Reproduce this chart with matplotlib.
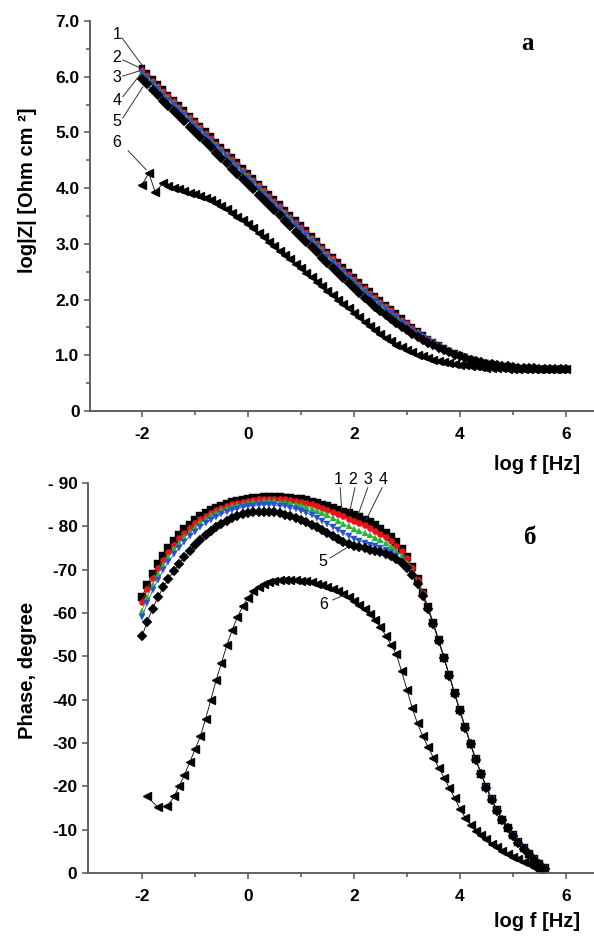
import numpy as np
import matplotlib
matplotlib.use("Agg")
import matplotlib.pyplot as plt

plt.rcParams['font.family'] = ['Liberation Sans', 'DejaVu Sans']

# #############################################################################
# Data

# log f grid, top panel (-2 ... 6)
logf_top = [-2.0, -1.9, -1.8, -1.7, -1.6, -1.5, -1.4, -1.3, -1.2, -1.1,
            -1.0, -0.9, -0.8, -0.7, -0.6, -0.5, -0.4, -0.3, -0.2, -0.1,
            0.0, 0.1, 0.2, 0.3, 0.4, 0.5, 0.6, 0.7, 0.8, 0.9,
            1.0, 1.1, 1.2, 1.3, 1.4, 1.5, 1.6, 1.7, 1.8, 1.9,
            2.0, 2.1, 2.2, 2.3, 2.4, 2.5, 2.6, 2.7, 2.8, 2.9,
            3.0, 3.1, 3.2, 3.3, 3.4, 3.5, 3.6, 3.7, 3.8, 3.9,
            4.0, 4.1, 4.2, 4.3, 4.4, 4.5, 4.6, 4.7, 4.8, 4.9,
            5.0, 5.1, 5.2, 5.3, 5.4, 5.5, 5.6, 5.7, 5.8, 5.9, 6.0]

# log|Z| for samples 1-5
z1 = [6.15, 6.06, 5.96, 5.87, 5.77, 5.68, 5.59, 5.49, 5.40, 5.30,
      5.21, 5.12, 5.02, 4.93, 4.83, 4.74, 4.65, 4.55, 4.46, 4.36,
      4.27, 4.18, 4.08, 3.99, 3.89, 3.80, 3.71, 3.61, 3.52, 3.42,
      3.33, 3.24, 3.14, 3.05, 2.95, 2.86, 2.77, 2.67, 2.58, 2.49,
      2.40, 2.31, 2.23, 2.15, 2.07, 1.99, 1.91, 1.83, 1.75, 1.66,
      1.58, 1.50, 1.43, 1.36, 1.30, 1.24, 1.18, 1.13, 1.08, 1.04,
      1.00, 0.96, 0.93, 0.90, 0.88, 0.86, 0.84, 0.83, 0.81, 0.80,
      0.79, 0.78, 0.78, 0.77, 0.77, 0.76, 0.76, 0.76, 0.75, 0.75, 0.76]
z2 = [6.12, 6.03, 5.93, 5.84, 5.74, 5.65, 5.56, 5.46, 5.37, 5.27,
      5.18, 5.09, 4.99, 4.90, 4.80, 4.71, 4.62, 4.52, 4.43, 4.33,
      4.24, 4.15, 4.05, 3.96, 3.86, 3.77, 3.68, 3.58, 3.49, 3.39,
      3.30, 3.21, 3.11, 3.02, 2.92, 2.83, 2.74, 2.64, 2.55, 2.46,
      2.37, 2.28, 2.20, 2.12, 2.04, 1.96, 1.88, 1.81, 1.73, 1.64,
      1.57, 1.49, 1.42, 1.35, 1.30, 1.24, 1.18, 1.13, 1.08, 1.04,
      1.00, 0.96, 0.93, 0.90, 0.88, 0.86, 0.84, 0.82, 0.81, 0.80,
      0.79, 0.78, 0.77, 0.77, 0.76, 0.76, 0.76, 0.75, 0.75, 0.75, 0.76]
z3 = [6.09, 6.00, 5.90, 5.81, 5.71, 5.62, 5.53, 5.43, 5.34, 5.24,
      5.15, 5.06, 4.96, 4.87, 4.77, 4.68, 4.59, 4.49, 4.40, 4.30,
      4.21, 4.12, 4.02, 3.93, 3.83, 3.74, 3.65, 3.55, 3.46, 3.36,
      3.27, 3.18, 3.08, 2.99, 2.89, 2.80, 2.71, 2.61, 2.52, 2.43,
      2.34, 2.25, 2.17, 2.09, 2.01, 1.93, 1.86, 1.78, 1.70, 1.62,
      1.55, 1.47, 1.41, 1.34, 1.28, 1.23, 1.17, 1.12, 1.08, 1.03,
      0.99, 0.96, 0.92, 0.90, 0.87, 0.85, 0.84, 0.82, 0.81, 0.80,
      0.79, 0.78, 0.77, 0.76, 0.76, 0.75, 0.75, 0.75, 0.74, 0.74, 0.75]
z4 = [6.06, 5.97, 5.87, 5.78, 5.68, 5.59, 5.50, 5.40, 5.31, 5.21,
      5.12, 5.03, 4.93, 4.84, 4.74, 4.65, 4.56, 4.46, 4.37, 4.27,
      4.18, 4.09, 3.99, 3.90, 3.80, 3.71, 3.62, 3.52, 3.43, 3.33,
      3.24, 3.15, 3.05, 2.96, 2.86, 2.77, 2.68, 2.58, 2.49, 2.40,
      2.31, 2.22, 2.14, 2.06, 1.98, 1.90, 1.83, 1.75, 1.68, 1.60,
      1.53, 1.46, 1.39, 1.33, 1.27, 1.22, 1.17, 1.12, 1.07, 1.03,
      0.99, 0.96, 0.93, 0.90, 0.88, 0.86, 0.84, 0.82, 0.81, 0.80,
      0.79, 0.78, 0.77, 0.77, 0.76, 0.76, 0.75, 0.75, 0.75, 0.75, 0.75]
z5 = [5.95, 5.86, 5.76, 5.67, 5.57, 5.48, 5.39, 5.29, 5.20, 5.10,
      5.01, 4.92, 4.82, 4.73, 4.63, 4.54, 4.45, 4.35, 4.26, 4.16,
      4.07, 3.98, 3.88, 3.79, 3.69, 3.60, 3.51, 3.41, 3.32, 3.22,
      3.13, 3.04, 2.94, 2.85, 2.75, 2.66, 2.57, 2.47, 2.38, 2.29,
      2.20, 2.11, 2.03, 1.95, 1.87, 1.79, 1.72, 1.65, 1.58, 1.51,
      1.45, 1.38, 1.33, 1.27, 1.22, 1.18, 1.13, 1.09, 1.05, 1.01,
      0.98, 0.95, 0.92, 0.89, 0.87, 0.85, 0.84, 0.82, 0.81, 0.80,
      0.79, 0.78, 0.78, 0.77, 0.77, 0.76, 0.76, 0.76, 0.75, 0.75, 0.76]

# sample 6 (log|Z|), its own low-frequency points are scattered
logf6_top = [-2.0, -1.87, -1.75, -1.6, -1.5, -1.4, -1.3, -1.2, -1.1,
             -1.0, -0.9, -0.8, -0.7, -0.6, -0.5, -0.4, -0.3, -0.2, -0.1,
             0.0, 0.1, 0.2, 0.3, 0.4, 0.5, 0.6, 0.7, 0.8, 0.9,
             1.0, 1.1, 1.2, 1.3, 1.4, 1.5, 1.6, 1.7, 1.8, 1.9,
             2.0, 2.1, 2.2, 2.3, 2.4, 2.5, 2.6, 2.7, 2.8, 2.9,
             3.0, 3.1, 3.2, 3.3, 3.4, 3.5, 3.6, 3.7, 3.8, 3.9,
             4.0, 4.1, 4.2, 4.3, 4.4, 4.5, 4.6, 4.7, 4.8, 4.9,
             5.0, 5.1, 5.2, 5.3, 5.4, 5.5, 5.6, 5.7, 5.8, 5.9, 6.0]
z6 = [4.06, 4.27, 3.93, 4.09, 4.03, 4.00, 3.98, 3.95, 3.92,
      3.89, 3.86, 3.82, 3.78, 3.73, 3.68, 3.62, 3.56, 3.49, 3.42,
      3.35, 3.28, 3.20, 3.12, 3.04, 2.96, 2.88, 2.80, 2.72, 2.64,
      2.56, 2.48, 2.40, 2.32, 2.24, 2.16, 2.08, 2.00, 1.92, 1.84,
      1.76, 1.68, 1.60, 1.52, 1.45, 1.38, 1.31, 1.25, 1.19, 1.14,
      1.09, 1.05, 1.01, 0.98, 0.95, 0.92, 0.90, 0.88, 0.86, 0.85,
      0.83, 0.82, 0.81, 0.80, 0.79, 0.78, 0.78, 0.77, 0.77, 0.76,
      0.76, 0.76, 0.75, 0.75, 0.75, 0.75, 0.75, 0.75, 0.75, 0.75, 0.76]

# log f grid, bottom panel (-2 ... 5.6)
logf_bot = [-2.0, -1.9, -1.8, -1.7, -1.6, -1.5, -1.4, -1.3, -1.2, -1.1,
            -1.0, -0.9, -0.8, -0.7, -0.6, -0.5, -0.4, -0.3, -0.2, -0.1,
            0.0, 0.1, 0.2, 0.3, 0.4, 0.5, 0.6, 0.7, 0.8, 0.9,
            1.0, 1.1, 1.2, 1.3, 1.4, 1.5, 1.6, 1.7, 1.8, 1.9,
            2.0, 2.1, 2.2, 2.3, 2.4, 2.5, 2.6, 2.7, 2.8, 2.9,
            3.0, 3.1, 3.2, 3.3, 3.4, 3.5, 3.6, 3.7, 3.8, 3.9,
            4.0, 4.1, 4.2, 4.3, 4.4, 4.5, 4.6, 4.7, 4.8, 4.9,
            5.0, 5.1, 5.2, 5.3, 5.4, 5.5, 5.6]

# phase angle, samples 1-5
p1 = [-63.7, -66.5, -69.0, -71.2, -73.2, -75.0, -76.6, -78.0, -79.3, -80.4,
      -81.4, -82.3, -83.0, -83.7, -84.3, -84.8, -85.2, -85.6, -85.9, -86.1,
      -86.3, -86.5, -86.6, -86.7, -86.7, -86.7, -86.7, -86.6, -86.5, -86.4,
      -86.2, -86.0, -85.7, -85.4, -85.0, -84.6, -84.2, -83.8, -83.4, -83.0,
      -82.6, -82.1, -81.5, -80.9, -80.2, -79.4, -78.5, -77.5, -76.3, -74.8,
      -73.0, -70.6, -67.8, -64.7, -61.3, -57.6, -53.7, -49.7, -45.6, -41.5,
      -37.5, -33.6, -29.8, -26.2, -22.9, -19.8, -17.0, -14.5, -12.3, -10.4,
      -8.7, -7.1, -5.7, -4.4, -3.2, -2.1, -1.1]
p2 = [-62.6, -65.5, -68.0, -70.3, -72.3, -74.1, -75.8, -77.2, -78.5, -79.7,
      -80.7, -81.6, -82.4, -83.1, -83.7, -84.2, -84.7, -85.1, -85.4, -85.7,
      -85.9, -86.1, -86.2, -86.3, -86.3, -86.3, -86.3, -86.2, -86.1, -85.9,
      -85.7, -85.4, -85.1, -84.7, -84.3, -83.8, -83.3, -82.8, -82.3, -81.8,
      -81.3, -80.8, -80.2, -79.6, -79.0, -78.3, -77.5, -76.6, -75.5, -74.2,
      -72.6, -70.4, -67.7, -64.6, -61.2, -57.5, -53.6, -49.6, -45.5, -41.4,
      -37.4, -33.5, -29.7, -26.1, -22.8, -19.7, -16.9, -14.4, -12.2, -10.3,
      -8.6, -7.0, -5.6, -4.3, -3.1, -2.0, -1.0]
p3 = [-60.5, -63.7, -66.5, -69.0, -71.1, -73.0, -74.7, -76.2, -77.6, -78.8,
      -79.9, -80.9, -81.7, -82.5, -83.1, -83.7, -84.2, -84.6, -84.9, -85.2,
      -85.4, -85.6, -85.7, -85.8, -85.8, -85.8, -85.7, -85.6, -85.4, -85.2,
      -84.9, -84.5, -84.1, -83.6, -83.1, -82.5, -81.9, -81.3, -80.6, -80.0,
      -79.4, -78.9, -78.4, -77.9, -77.4, -76.8, -76.1, -75.3, -74.3, -73.1,
      -71.6, -69.6, -67.1, -64.3, -61.0, -57.4, -53.6, -49.7, -45.6, -41.6,
      -37.6, -33.7, -29.9, -26.3, -23.0, -19.9, -17.1, -14.6, -12.4, -10.5,
      -8.8, -7.2, -5.8, -4.5, -3.3, -2.2, -1.2]
p4 = [-59.0, -62.3, -65.2, -67.7, -69.9, -71.8, -73.5, -75.0, -76.4, -77.7,
      -78.8, -79.8, -80.7, -81.5, -82.2, -82.8, -83.3, -83.7, -84.1, -84.4,
      -84.6, -84.8, -84.9, -85.0, -85.0, -84.9, -84.8, -84.6, -84.3, -84.0,
      -83.6, -83.1, -82.6, -82.0, -81.3, -80.6, -79.9, -79.1, -78.4, -77.7,
      -77.1, -76.6, -76.2, -75.8, -75.4, -75.0, -74.5, -73.9, -73.1, -72.1,
      -70.8, -69.0, -66.7, -64.0, -60.8, -57.2, -53.4, -49.5, -45.4, -41.4,
      -37.4, -33.5, -29.8, -26.2, -22.9, -19.8, -17.0, -14.5, -12.3, -10.4,
      -8.7, -7.1, -5.7, -4.4, -3.2, -2.1, -1.1]
p5 = [-54.6, -58.0, -61.0, -63.6, -65.9, -67.9, -69.7, -71.4, -72.9, -74.3,
      -75.6, -76.8, -77.9, -78.9, -79.8, -80.6, -81.3, -81.9, -82.4, -82.8,
      -83.1, -83.3, -83.4, -83.4, -83.3, -83.2, -83.0, -82.7, -82.4, -82.0,
      -81.5, -81.0, -80.4, -79.8, -79.1, -78.4, -77.7, -77.0, -76.4, -75.9,
      -75.5, -75.2, -74.9, -74.6, -74.3, -74.0, -73.6, -73.1, -72.4, -71.5,
      -70.3, -68.7, -66.6, -64.0, -60.9, -57.4, -53.6, -49.6, -45.5, -41.4,
      -37.4, -33.5, -29.7, -26.1, -22.8, -19.7, -16.9, -14.4, -12.2, -10.3,
      -8.6, -7.0, -5.6, -4.3, -3.1, -2.0, -1.0]

# sample 6 (phase)
logf6_bot = [-1.91, -1.70, -1.52, -1.39, -1.3, -1.2, -1.1,
             -1.0, -0.9, -0.8, -0.7, -0.6, -0.5, -0.4, -0.3, -0.2, -0.1,
             0.0, 0.1, 0.2, 0.3, 0.4, 0.5, 0.6, 0.7, 0.8, 0.9,
             1.0, 1.1, 1.2, 1.3, 1.4, 1.5, 1.6, 1.7, 1.8, 1.9,
             2.0, 2.1, 2.2, 2.3, 2.4, 2.5, 2.6, 2.7, 2.8, 2.9,
             3.0, 3.1, 3.2, 3.3, 3.4, 3.5, 3.6, 3.7, 3.8, 3.9,
             4.0, 4.1, 4.2, 4.3, 4.4, 4.5, 4.6, 4.7, 4.8, 4.9,
             5.0, 5.1, 5.2, 5.3, 5.4, 5.5]
p6 = [-17.7, -15.2, -15.4, -17.7, -20.0, -22.6, -25.5,
      -28.5, -31.5, -35.5, -40.0, -44.5, -48.5, -52.5, -56.0, -59.0, -61.5,
      -63.5, -65.0, -66.0, -66.7, -67.1, -67.4, -67.5, -67.6, -67.6, -67.5,
      -67.4, -67.3, -67.1, -66.8, -66.5, -66.1, -65.6, -65.0, -64.3, -63.6,
      -62.8, -61.9, -60.9, -59.7, -58.3, -56.7, -54.8, -52.6, -50.5, -46.5,
      -42.3, -38.0, -34.5, -31.5, -29.0, -26.6, -24.3, -22.0, -19.6, -17.3,
      -14.8, -12.8, -11.1, -9.8, -8.8, -7.8, -6.8, -5.9, -5.1, -4.4,
      -3.8, -3.2, -2.6, -2.0, -1.4, -0.8]

curve_labels = ['1', '2', '3', '4', '5', '6']

# #############################################################################
# Plot

# (marker, color, size) per sample
styles = [('s', 'black', 5), ('o', '#e8141a', 4), ('^', '#27b43a', 4),
          ('v', '#2a4fd0', 4), ('D', 'black', 5), ('<', 'black', 5.5)]

fig = plt.figure(figsize=(5.94, 9.40), dpi=100)
ax_top = fig.add_axes([0.1515, 0.5628, 0.8485, 0.4149])
ax_bot = fig.add_axes([0.1480, 0.0713, 0.8520, 0.4149])

spine_col = '#555555'
for ax in (ax_top, ax_bot):
    ax.spines['top'].set_visible(False)
    ax.spines['right'].set_visible(False)
    for s in ('left', 'bottom'):
        ax.spines[s].set_color(spine_col)
        ax.spines[s].set_linewidth(1.3)
    ax.tick_params(which='both', direction='out', color=spine_col, width=1.1)
    ax.tick_params(which='major', length=4.5, labelsize=12.5, pad=3)
    ax.tick_params(which='minor', length=3)
    ax.tick_params(axis='x', which='major', pad=7)
    ax.set_xticks([-2, 0, 2, 4, 6])
    ax.set_xticks([-1, 1, 3, 5], minor=True)
    ax.set_xticklabels(['-2', '0', '2', '4', '6'], fontweight='bold')

# top: modulus
ax_top.set_xlim(-2.98, 6.53)
ax_top.set_ylim(0, 7)
ax_top.set_yticks([0, 1, 2, 3, 4, 5, 6, 7])
ax_top.set_yticks([0.5, 1.5, 2.5, 3.5, 4.5, 5.5, 6.5], minor=True)
ax_top.set_yticklabels(['0', '1.0', '2.0', '3.0', '4.0', '5.0', '6.0', '7.0'],
                       fontweight='bold')

top_series = [z1, z2, z3, z4, z5]
for ys, (m, c, s) in zip(top_series, styles[:5]):
    ax_top.plot(logf_top, ys, '-', color=c, lw=0.6, marker=m, ms=s,
                mfc=c, mec=c, mew=0.3)
ax_top.plot(logf6_top, z6, '-', color='black', lw=0.6, marker='<', ms=5.5,
            mfc='black', mec='black')

# leader lines and numbers, top
top_lab = [(-2.47, 6.75), (-2.47, 6.34), (-2.47, 5.98),
           (-2.47, 5.58), (-2.47, 5.19), (-2.47, 4.81)]
top_lines = [((-2.38, 6.70), (-2.0, 6.21)), ((-2.36, 6.30), (-2.04, 6.16)),
             ((-2.36, 6.01), (-2.06, 6.10)), ((-2.36, 5.64), (-2.04, 6.03)),
             ((-2.36, 5.26), (-1.98, 5.82)), ((-2.26, 4.67), (-1.92, 4.33))]
for lab, (x, y), (p, q) in zip(curve_labels, top_lab, top_lines):
    ax_top.text(x, y, lab, fontsize=11.5, ha='center', va='center')
    ax_top.plot([p[0], q[0]], [p[1], q[1]], color='#333333', lw=0.7)

# bottom: phase
ax_bot.set_xlim(-3.02, 6.53)
ax_bot.set_ylim(0, -90)
ax_bot.set_yticks([0, -10, -20, -30, -40, -50, -60, -70, -80, -90])
ax_bot.set_yticklabels(['0', '-10', '-20', '-30', '-40', '-50', '-60', '-70',
                        '- 80', '- 90'], fontweight='bold')

bot_series = [p1, p2, p3, p4, p5]
for ys, (m, c, s) in zip(bot_series, styles[:5]):
    ax_bot.plot(logf_bot, ys, '-', color=c, lw=0.6, marker=m, ms=s + 0.5,
                mfc=c, mec=c, mew=0.3)
ax_bot.plot(logf6_bot, p6, '-', color='black', lw=0.6, marker='<', ms=5.5,
            mfc='black', mec='black')

bot_lab = [(1.70, -90.8), (1.98, -90.8), (2.26, -90.8), (2.55, -90.8),
           (1.42, -71.8), (1.42, -61.9)]
bot_lines = [((1.74, -88.9), (1.77, -83.8)), ((2.02, -88.9), (1.92, -83.4)),
             ((2.26, -88.9), (2.08, -82.7)), ((2.53, -88.9), (2.23, -81.5)),
             ((1.55, -72.7), (1.87, -75.1)), ((1.60, -63.0), (1.83, -64.2))]
for lab, (x, y), (p, q) in zip(curve_labels, bot_lab, bot_lines):
    ax_bot.text(x, y, lab, fontsize=11.5, ha='center', va='center', clip_on=False)
    ax_bot.plot([p[0], q[0]], [p[1], q[1]], color='#333333', lw=0.7,
                clip_on=False)

# axis titles
lab_font = dict(fontsize=14.5, fontweight='bold')
fig.text(0.046, 1 - 190 / 940, 'log|Z| [Ohm cm \u00b2]', rotation=90,
         ha='center', va='center', **lab_font)
fig.text(0.046, 1 - 670 / 940, 'Phase, degree', rotation=90,
         ha='center', va='center', **lab_font)
fig.text(580 / 594, 1 - 455 / 940, 'log f [Hz]', ha='right', va='top', **lab_font)
fig.text(580 / 594, 1 - 912 / 940, 'log f [Hz]', ha='right', va='top', **lab_font)

# panel letters
serif = dict(fontsize=18, fontweight='bold', family=['Liberation Serif', 'DejaVu Serif'])
fig.text(528 / 594, 1 - 44 / 940, 'a', ha='center', va='center', **serif)
fig.text(530 / 594, 1 - 538 / 940, '\u0431', ha='center', va='center', **serif)

fig.savefig('out.png', dpi=100)
